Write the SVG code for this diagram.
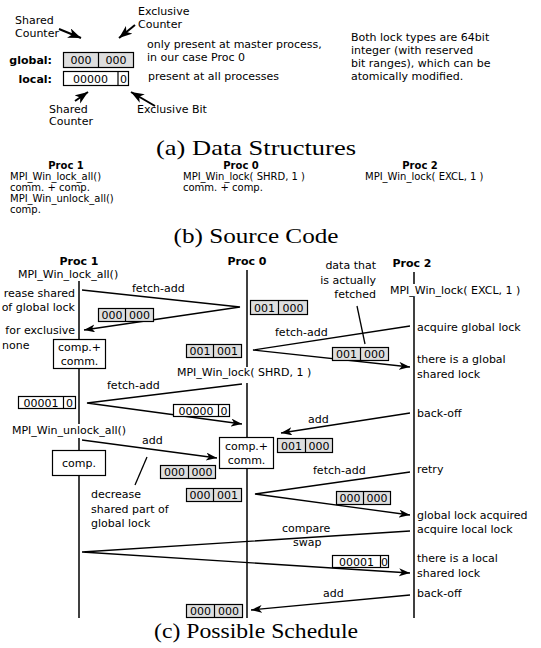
<svg xmlns="http://www.w3.org/2000/svg" width="541" height="648" viewBox="0 0 541 648">
<defs>
<style>
.t{font-family:"DejaVu Sans",sans-serif;font-size:11px;fill:#000}
.s{font-family:"DejaVu Sans",sans-serif;font-size:10px;fill:#000}
.b{font-weight:bold}
.m{text-anchor:middle}
.e{text-anchor:end}
.cap{font-family:"Liberation Serif",serif;font-size:21px;fill:#000;text-anchor:middle}
.ln{stroke:#000;stroke-width:1.3;fill:none}
.arr{stroke:#000;stroke-width:1.3;fill:none;marker-end:url(#ah)}
.arr2{stroke:#000;stroke-width:2;fill:none;marker-end:url(#ah2)}
.life{stroke:#000;stroke-width:1.5;fill:none}
.g{fill:#dedede;stroke:#000;stroke-width:1.2}
.w{fill:#fff;stroke:#000;stroke-width:1.2}
.dv{stroke:#000;stroke-width:1.2}
</style>
<marker id="ah" markerUnits="userSpaceOnUse" markerWidth="12" markerHeight="9" refX="11" refY="4" orient="auto">
<path d="M0,0 L11,4 L0,8 L3,4 z" fill="#000"/>
</marker>
<marker id="ah2" markerUnits="userSpaceOnUse" markerWidth="14" markerHeight="11" refX="13" refY="5" orient="auto">
<path d="M0,0 L13,5 L0,10 L3.5,5 z" fill="#000"/>
</marker>
</defs>

<!-- (a) Data Structures -->
<g id="data-structures">
<text class="t" x="15" y="24">Shared</text>
<text class="t" x="15" y="37">Counter</text>
<text class="t" x="138" y="15">Exclusive</text>
<text class="t" x="138" y="28">Counter</text>
<text class="t b e" x="52" y="64">global:</text>
<text class="t b e" x="52" y="83">local:</text>
<g id="global-lock">
<rect class="g" x="63.5" y="52.5" width="70" height="15"/>
<line class="dv" x1="98.5" y1="52.5" x2="98.5" y2="67.5"/>
<text class="t m" x="81" y="64">000</text>
<text class="t m" x="116" y="64">000</text>
</g>
<g id="local-lock">
<rect class="w" x="63.5" y="71.5" width="65" height="14"/>
<line class="dv" x1="118" y1="71.5" x2="118" y2="85.5"/>
<text class="t m" x="90.5" y="82.5">00000</text>
<text class="t m" x="123.5" y="82.5">0</text>
</g>
<text class="t" x="49" y="113">Shared</text>
<text class="t" x="49" y="125">Counter</text>
<text class="t" x="137" y="113">Exclusive Bit</text>
<text class="t" x="147" y="48">only present at master process,</text>
<text class="t" x="147" y="61">in our case Proc 0</text>
<text class="t" x="148" y="80">present at all processes</text>
<text class="t" x="351" y="41">Both lock types are 64bit</text>
<text class="t" x="351" y="54">integer (with reserved</text>
<text class="t" x="351" y="67">bit ranges), which can be</text>
<text class="t" x="351" y="80">atomically modified.</text>
</g>
<g id="data-structure-arrows">
<line class="arr2" x1="59" y1="29" x2="81" y2="38"/>
<line class="arr2" x1="135" y1="25" x2="119" y2="38"/>
<line class="arr2" x1="75" y1="101" x2="88" y2="92"/>
<line class="arr2" x1="155" y1="106" x2="131" y2="92"/>
</g>
<text class="cap" x="256" y="155" textLength="200" lengthAdjust="spacingAndGlyphs">(a) Data Structures</text>

<!-- (b) Source Code -->
<g id="code-proc1">
<text class="s b m" x="66" y="169">Proc 1</text>
<text class="s" x="10" y="180">MPI_Win_lock_all()</text>
<text class="s" x="10" y="191">comm. + comp.</text>
<text class="s" x="10" y="202">MPI_Win_unlock_all()</text>
<text class="s" x="10" y="213">comp.</text>
</g>
<g id="code-proc0">
<text class="s b m" x="241" y="169">Proc 0</text>
<text class="s" x="183" y="180">MPI_Win_lock( SHRD, 1 )</text>
<text class="s" x="183" y="191">comm. + comp.</text>
</g>
<g id="code-proc2">
<text class="s b m" x="420" y="169">Proc 2</text>
<text class="s" x="365" y="180">MPI_Win_lock( EXCL, 1 )</text>
</g>
<text class="cap" x="256" y="243" textLength="165" lengthAdjust="spacingAndGlyphs">(b) Source Code</text>

<!-- (c) Possible Schedule -->
<g id="proc1">
<text class="t b m" x="79" y="265">Proc 1</text>
<text class="t" x="18" y="278">MPI_Win_lock_all()</text>
<line class="life" x1="79" y1="281" x2="79" y2="339"/>
<rect class="w" x="53.5" y="339.5" width="52" height="29"/>
<text class="t m" x="79.5" y="351">comp.+</text>
<text class="t m" x="79.5" y="365">comm.</text>
<line class="life" x1="79" y1="368" x2="79" y2="424"/>
<text class="t" x="12" y="434">MPI_Win_unlock_all()</text>
<line class="life" x1="79" y1="438" x2="79" y2="450"/>
<rect class="w" x="52.5" y="450.5" width="53" height="25"/>
<text class="t m" x="79" y="467">comp.</text>
<line class="life" x1="79" y1="475" x2="79" y2="618"/>
<text class="t e" x="75" y="297">rease shared</text>
<text class="t e" x="75" y="311">of global lock</text>
<text class="t e" x="75" y="334">for exclusive</text>
<text class="t" x="2" y="349">none</text>
</g>
<g id="proc0">
<text class="t b m" x="247" y="265">Proc 0</text>
<line class="life" x1="247" y1="270" x2="247" y2="367"/>
<text class="t" x="177" y="376">MPI_Win_lock( SHRD, 1 )</text>
<line class="life" x1="247" y1="383" x2="247" y2="437"/>
<rect class="w" x="219.5" y="437.5" width="54" height="31"/>
<text class="t m" x="246.5" y="450">comp.+</text>
<text class="t m" x="246.5" y="464">comm.</text>
<line class="life" x1="247" y1="468" x2="247" y2="618"/>
</g>
<g id="proc2">
<text class="t b m" x="412" y="267">Proc 2</text>
<line class="life" x1="414" y1="272" x2="414" y2="284"/>
<text class="t" x="390" y="294">MPI_Win_lock( EXCL, 1 )</text>
<line class="life" x1="414" y1="297" x2="414" y2="618"/>
<text class="t" x="417" y="331">acquire global lock</text>
<text class="t" x="417" y="363">there is a global</text>
<text class="t" x="417" y="378">shared lock</text>
<text class="t" x="417" y="417">back-off</text>
<text class="t" x="417" y="473">retry</text>
<text class="t" x="417" y="519">global lock acquired</text>
<text class="t" x="417" y="533">acquire local lock</text>
<text class="t" x="417" y="562">there is a local</text>
<text class="t" x="417" y="577">shared lock</text>
<text class="t" x="417" y="597">back-off</text>
</g>

<g id="connectors">
<path class="arr" d="M82,290 L240,307 L84,330"/>
<path class="arr" d="M410,326 L253,350 L410,367"/>
<path class="arr" d="M242,384 L87,403 L242,424"/>
<path class="arr" d="M82,440 L217,458"/>
<path class="arr" d="M410,413 L281,433"/>
<path class="arr" d="M410,472 L255,494 L410,515"/>
<path class="arr" d="M410,531 L82,552 L410,573"/>
<path class="arr" d="M410,595 L251,610"/>
<line class="ln" x1="357" y1="306" x2="365" y2="344"/>
<line class="ln" x1="147" y1="457" x2="135" y2="485"/>
</g>

<g id="labels">
<text class="t" x="132" y="292">fetch-add</text>
<text class="t" x="275" y="336">fetch-add</text>
<text class="t" x="107" y="389">fetch-add</text>
<text class="t" x="142" y="444">add</text>
<text class="t" x="308" y="423">add</text>
<text class="t" x="313" y="474">fetch-add</text>
<text class="t" x="282" y="532">compare</text>
<text class="t" x="293" y="546">swap</text>
<text class="t" x="323" y="597">add</text>
<text class="t e" x="376" y="269">data that</text>
<text class="t e" x="376" y="284">is actually</text>
<text class="t e" x="376" y="298">fetched</text>
<text class="t" x="91" y="498">decrease</text>
<text class="t" x="91" y="513">shared part of</text>
<text class="t" x="91" y="527">global lock</text>
</g>

<g id="lock-values">
<g><rect class="g" x="98.5" y="308.5" width="55" height="13"/><line class="dv" x1="125.5" y1="308.5" x2="125.5" y2="321.5"/><text class="t m" x="112" y="319">000</text><text class="t m" x="139.5" y="319">000</text></g>
<g><rect class="g" x="250.5" y="300.5" width="57" height="14"/><line class="dv" x1="278.5" y1="300.5" x2="278.5" y2="314.5"/><text class="t m" x="264.5" y="312">001</text><text class="t m" x="293" y="312">000</text></g>
<g><rect class="g" x="186.5" y="344.5" width="55" height="13"/><line class="dv" x1="213.5" y1="344.5" x2="213.5" y2="357.5"/><text class="t m" x="200" y="355">001</text><text class="t m" x="227.5" y="355">001</text></g>
<g><rect class="g" x="332.5" y="347.5" width="56" height="13"/><line class="dv" x1="360.5" y1="347.5" x2="360.5" y2="360.5"/><text class="t m" x="346.5" y="358">001</text><text class="t m" x="374.5" y="358">000</text></g>
<g><rect class="w" x="18.5" y="396.5" width="57" height="12"/><line class="dv" x1="63.5" y1="396.5" x2="63.5" y2="408.5"/><text class="t m" x="41" y="406.5">00001</text><text class="t m" x="69.5" y="406.5">0</text></g>
<g><rect class="w" x="173.5" y="404.5" width="56" height="12"/><line class="dv" x1="218.5" y1="404.5" x2="218.5" y2="416.5"/><text class="t m" x="196" y="414.5">00000</text><text class="t m" x="224" y="414.5">0</text></g>
<g><rect class="g" x="277.5" y="438.5" width="55" height="14"/><line class="dv" x1="305.5" y1="438.5" x2="305.5" y2="452.5"/><text class="t m" x="291.5" y="450">001</text><text class="t m" x="319" y="450">000</text></g>
<g><rect class="g" x="160.5" y="465.5" width="55" height="13"/><line class="dv" x1="188.5" y1="465.5" x2="188.5" y2="478.5"/><text class="t m" x="174.5" y="476">000</text><text class="t m" x="202" y="476">000</text></g>
<g><rect class="g" x="186.5" y="488.5" width="55" height="13"/><line class="dv" x1="213.5" y1="488.5" x2="213.5" y2="501.5"/><text class="t m" x="200" y="499">000</text><text class="t m" x="227.5" y="499">001</text></g>
<g><rect class="g" x="336.5" y="491.5" width="54" height="13"/><line class="dv" x1="363.5" y1="491.5" x2="363.5" y2="504.5"/><text class="t m" x="350" y="502">000</text><text class="t m" x="377" y="502">000</text></g>
<g><rect class="w" x="332.5" y="555.5" width="56" height="12"/><line class="dv" x1="380.5" y1="555.5" x2="380.5" y2="567.5"/><text class="t m" x="356.5" y="565.5">00001</text><text class="t m" x="384.5" y="565.5">0</text></g>
<g><rect class="g" x="186.5" y="604.5" width="56" height="13"/><line class="dv" x1="214.5" y1="604.5" x2="214.5" y2="617.5"/><text class="t m" x="200.5" y="615">000</text><text class="t m" x="228.5" y="615">000</text></g>
</g>

<text class="cap" x="256" y="638" textLength="204" lengthAdjust="spacingAndGlyphs">(c) Possible Schedule</text>
</svg>
